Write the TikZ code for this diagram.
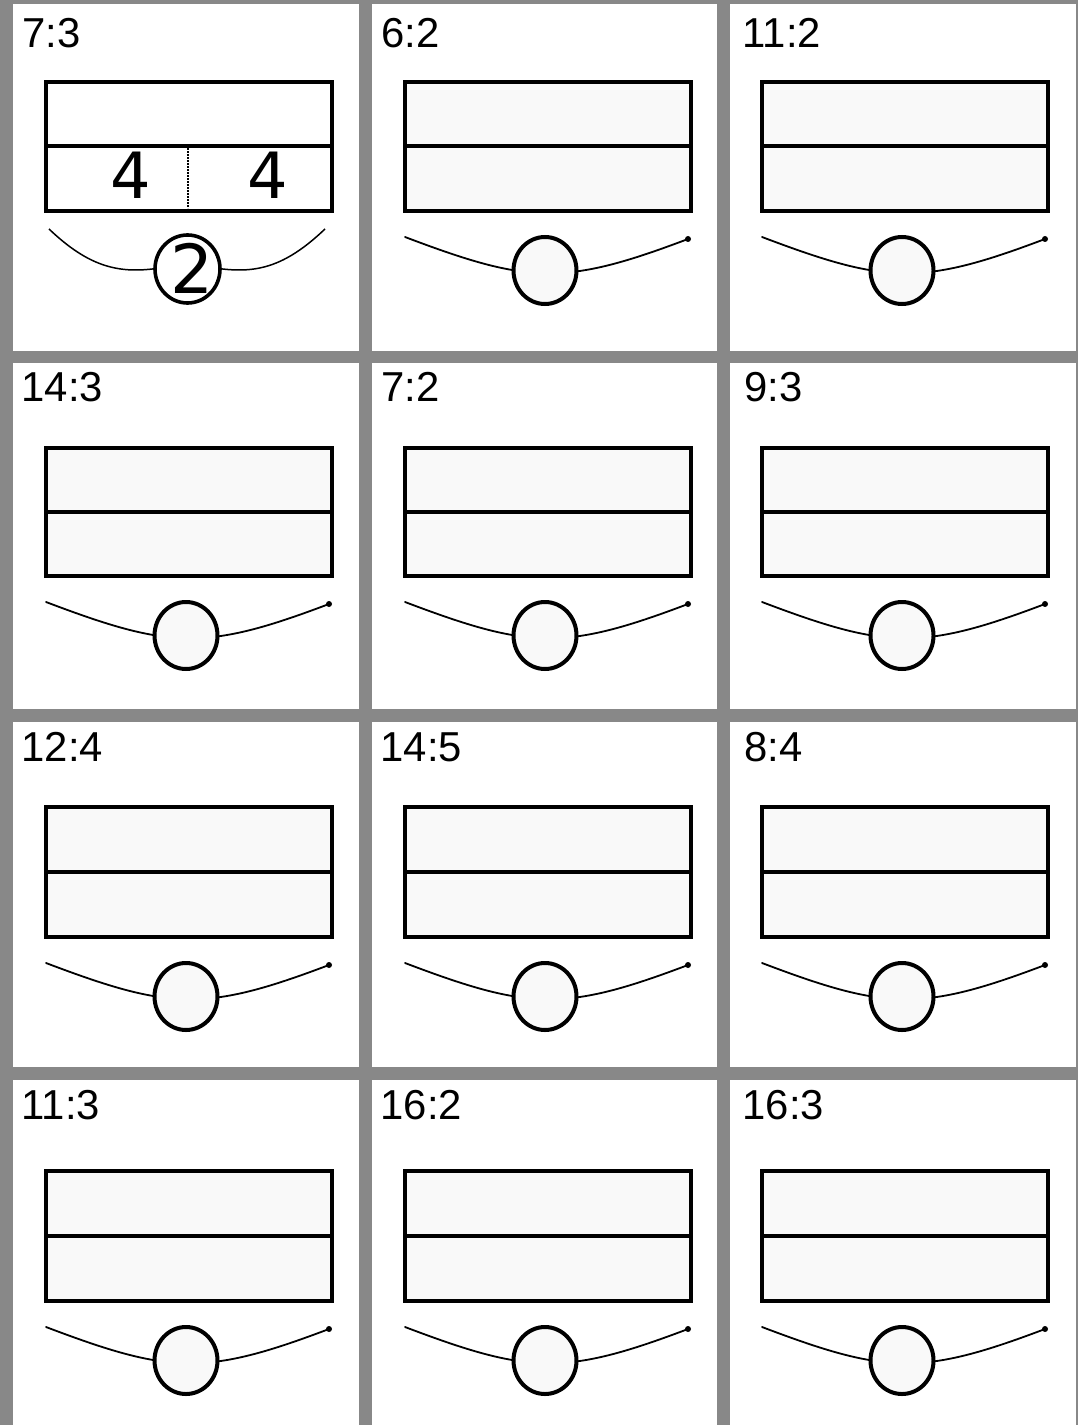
\documentclass[tikz,border=0pt]{standalone}
\usepackage{fontspec}
\setmainfont{Liberation Sans}
\newfontfamily\djv{DejaVu Sans}
\usetikzlibrary{shapes.geometric}
\definecolor{gridgray}{RGB}{136,136,136}
\definecolor{boxfill}{RGB}{249,249,249}
\tikzset{
  box/.style={rectangle, draw=black, line width=4bp, fill=boxfill, inner sep=0pt, outer sep=0pt, minimum width=286bp},
  wheel/.style={ellipse, draw=black, line width=4bp, fill=boxfill, inner sep=0pt, outer sep=0pt, minimum width=63bp, minimum height=67bp},
  wire/.style={line width=1.8bp, line cap=round},
  lbl/.style={anchor=base west, inner sep=0pt, font=\fontsize{42}{50}\selectfont},
  bigdigit/.style={anchor=base, inner sep=0pt, font=\djv\fontsize{64}{70}\selectfont}
}
% #1 name, #2 rect left, #3 rect top, #4 rect bottom, #5 label x, #6 label baseline, #7 label
\newcommand\mycell[7]{%
  \node[lbl] (#1l) at (#5,#6) {#7};
  \node[box, minimum height={(#4-#3-4)*1bp}] (#1r) at ({#2+145},{(#3+#4)/2}) {};
  \draw[line width=4bp] (#1r.west) -- (#1r.east);
  \coordinate (#1a) at ({#2+2},{#4+24});
  \coordinate (#1b) at ({#2+285},{#4+26});
  \draw[wire] (#1a) .. controls ({#2+126},{#4+71}) and ({#2+161},{#4+73}) .. (#1b);
  \fill (#1b) circle (3bp);
  \node[wheel] (#1w) at ({#2+142},{#4+57.5}) {};
}
\begin{document}
\begin{tikzpicture}[x=1bp,y=-1bp]
\useasboundingbox (0,0) rectangle (1078,1425);
\fill[gridgray] (0,0) rectangle (1078,1425);
\foreach \xa/\xb in {13/359, 372/717, 730/1076}
  \foreach \ya/\yb in {4/351, 363/709, 722/1067, 1080/1425}
    \fill[white] (\xa,\ya) rectangle (\xb,\yb);

% ---- cell 1 (special) ----
\node[lbl] (c11l) at (22.5,48) {7:3};
\node[box, fill=white, minimum height=129bp] (c11r) at (189,146.5) {};
\draw[line width=4bp] (c11r.west) -- (c11r.east);
\coordinate (c11d1) at (188,148.5);
\coordinate (c11d2) at (188,208.5);
\draw[line width=1.3bp, dash pattern=on 1.3bp off 1.7bp] (c11d1) -- (c11d2);
\node[bigdigit] (c11f1) at (130.5,199) {4};
\node[bigdigit] (c11f2) at (267.5,199) {4};
\coordinate (c11a) at (49,229);
\coordinate (c11m1) at (160,268);
\coordinate (c11b) at (325,229);
\coordinate (c11m2) at (215,268);
\draw[line width=1.5bp] (c11a) .. controls (90,268) and (120,274) .. (c11m1);
\draw[line width=1.5bp] (c11b) .. controls (284,268) and (255,274) .. (c11m2);
\node[ellipse, draw=black, line width=3.6bp, fill=white, inner sep=0pt, minimum width=65bp, minimum height=68bp] (c11w) at (187.5,269) {};
\node[anchor=base, inner sep=0pt, font=\djv\fontsize{68}{74}\selectfont] (c11t) at (192.5,293) {2};

% ---- other cells ----
\mycell{c12}{403}{80}{213}{381.5}{48}{6:2}
\mycell{c13}{760}{80}{213}{742.5}{48}{11:2}

\mycell{c21}{44}{446}{578}{21.5}{401}{14:3}
\mycell{c22}{403}{446}{578}{381.5}{401}{7:2}
\mycell{c23}{760}{446}{578}{744}{401}{9:3}

\mycell{c31}{44}{805}{939}{21.5}{761.5}{12:4}
\mycell{c32}{403}{805}{939}{380.5}{761.5}{14:5}
\mycell{c33}{760}{805}{939}{744}{761.5}{8:4}

\mycell{c41}{44}{1169}{1303}{21.5}{1119}{11:3}
\mycell{c42}{403}{1169}{1303}{380.5}{1119}{16:2}
\mycell{c43}{760}{1169}{1303}{742.5}{1119}{16:3}
\end{tikzpicture}
\end{document}
